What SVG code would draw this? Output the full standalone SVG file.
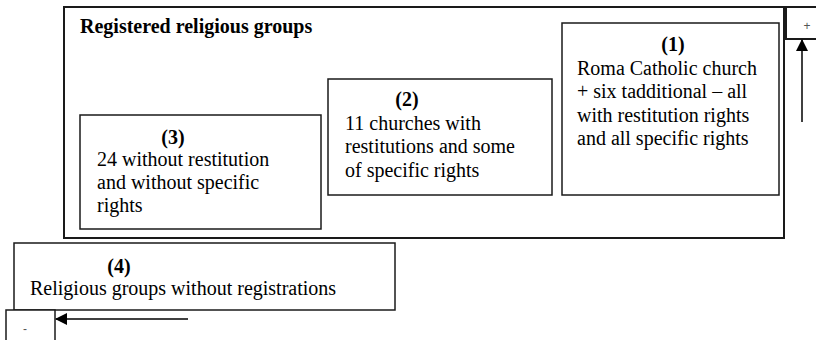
<svg xmlns="http://www.w3.org/2000/svg" width="816" height="340" viewBox="0 0 816 340">
<style>
.box{fill:#fff;stroke:#1a1a1a;stroke-width:1.5}
.outer{fill:#fff;stroke:#1a1a1a;stroke-width:2}
.b{font-weight:bold}
.conn{stroke:#000;stroke-width:1.5;fill:none}
</style>
<defs>
<marker id="ah" viewBox="0 0 12 12" refX="11" refY="6" markerWidth="12" markerHeight="12" markerUnits="userSpaceOnUse" orient="auto">
<path d="M0,0 L12,6 L0,12 z" fill="#000"/>
</marker>
</defs>
<rect width="816" height="340" fill="#fff"/>
<g id="registered" font-family="'Liberation Serif', serif" font-size="20">
<rect class="outer" x="64" y="7" width="720" height="231"/>
<text class="b" x="80" y="33">Registered religious groups</text>
</g>
<g id="node1" font-family="'Liberation Serif', serif" font-size="20">
<rect class="box" x="562" y="23" width="217" height="172"/>
<text class="b" x="673" y="51" text-anchor="middle">(1)</text>
<text x="577" y="75">Roma Catholic church</text>
<text x="577" y="98">+ six tadditional &#8211; all</text>
<text x="577" y="122">with restitution rights</text>
<text x="577" y="145">and all specific rights</text>
</g>
<g id="node2" font-family="'Liberation Serif', serif" font-size="20">
<rect class="box" x="328" y="79" width="224" height="116"/>
<text class="b" x="407" y="106" text-anchor="middle">(2)</text>
<text x="345" y="130">11 churches with</text>
<text x="345" y="153">restitutions and some</text>
<text x="345" y="177">of specific rights</text>
</g>
<g id="node3" font-family="'Liberation Serif', serif" font-size="20">
<rect class="box" x="80" y="115" width="241" height="114"/>
<text class="b" x="173" y="144" text-anchor="middle">(3)</text>
<text x="97" y="166">24 without restitution</text>
<text x="97" y="189">and without specific</text>
<text x="97" y="212">rights</text>
</g>
<g id="node4" font-family="'Liberation Serif', serif" font-size="20">
<rect class="box" x="14" y="243" width="381" height="67"/>
<text class="b" x="119" y="273" text-anchor="middle">(4)</text>
<text x="30" y="295">Religious groups without registrations</text>
</g>
<g id="plus" font-family="'Liberation Sans', sans-serif" font-size="12" fill="#555">
<rect class="outer" x="786" y="7" width="32" height="32"/>
<text x="807" y="30" text-anchor="middle">+</text>
</g>
<g id="minus" font-family="'Liberation Sans', sans-serif" font-size="12" fill="#555">
<rect class="box" x="6" y="310" width="49" height="34"/>
<text x="25" y="333" text-anchor="middle">-</text>
</g>
<g id="connectors">
<line class="conn" x1="802" y1="122" x2="802" y2="40" marker-end="url(#ah)"/>
<line class="conn" x1="188" y1="319" x2="56" y2="319" marker-end="url(#ah)"/>
</g>
</svg>
